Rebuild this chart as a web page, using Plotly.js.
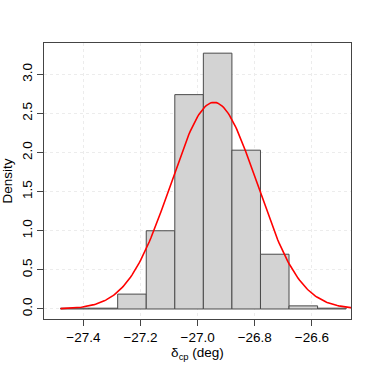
<!DOCTYPE html>
<html>
<head>
<meta charset="utf-8">
<script src="https://cdn.plot.ly/plotly-3.0.1.min.js"></script>
<style>
  html, body { margin: 0; padding: 0; background: #fff; }
  #chart { width: 374px; height: 374px; }
</style>
</head>
<body>
<div id="chart"></div>
<script>
// histogram bins (width 0.1) and density heights
const binStarts = [-27.48, -27.38, -27.28, -27.18, -27.08, -26.98, -26.88, -26.78, -26.68, -26.58];
const densities = [0.01, 0.01, 0.19, 1.00, 2.74, 3.27, 2.03, 0.70, 0.04, 0.01];
const binWidth = 0.1;

// fitted normal curve parameters
const fitMean = -26.943;
const fitSd = 0.151;
const curveFrom = -27.48;
const curveTo = -26.46;

const xTicks = [-27.4, -27.2, -27.0, -26.8, -26.6];
const yTicks = [0, 0.5, 1, 1.5, 2, 2.5, 3];

const centers = binStarts.map(s => s + binWidth / 2);

// dnorm evaluated on a grid, like curve(dnorm(x, m, s), add = TRUE)
const cx = [], cy = [];
const n = 200;
for (let i = 0; i <= n; i++) {
    const x = curveFrom + (curveTo - curveFrom) * i / n;
    const z = (x - fitMean) / fitSd;
    cx.push(x);
    cy.push(Math.exp(-0.5 * z * z) / (fitSd * Math.sqrt(2 * Math.PI)));
}

const font = { family: 'Liberation Sans, Arial, sans-serif', size: 13.5, color: '#000' };

Plotly.newPlot('chart', [{
    type: 'bar',
    x: centers,
    y: densities,
    width: binWidth,
    marker: { color: '#d3d3d3', line: { color: '#4a4a4a', width: 1 } },
    hoverinfo: 'skip'
}, {
    type: 'scatter',
    mode: 'lines',
    x: cx,
    y: cy,
    line: { color: '#ff0000', width: 1.6 },
    hoverinfo: 'skip'
}], {
    width: 374,
    height: 374,
    margin: { l: 44, r: 23, t: 43, b: 55 },
    paper_bgcolor: '#fff',
    plot_bgcolor: '#fff',
    showlegend: false,
    font: font,
    xaxis: {
        range: [-27.538, -26.463],
        tickvals: xTicks,
        ticktext: xTicks.map(v => v.toFixed(1).replace('-', '\u2212')),
        ticks: 'outside',
        ticklen: 6,
        tickcolor: '#444',
        showline: true,
        linecolor: '#444',
        mirror: true,
        showgrid: true,
        gridcolor: '#ececec',
        griddash: 'dot',
        zeroline: false,
        title: { text: '\u03b4<sub>cp</sub> (deg)', font: font, standoff: 3 }
    },
    yaxis: {
        range: [-0.128, 3.40],
        tickvals: yTicks,
        ticktext: yTicks.map(v => v.toFixed(1)),
        tickangle: -90,
        ticks: 'outside',
        ticklen: 6,
        tickcolor: '#444',
        showline: true,
        linecolor: '#444',
        mirror: true,
        showgrid: true,
        gridcolor: '#ececec',
        griddash: 'dot',
        zeroline: false,
        title: { text: 'Density', font: font, standoff: 5 }
    }
}, { displayModeBar: false, staticPlot: true });
</script>
</body>
</html>
